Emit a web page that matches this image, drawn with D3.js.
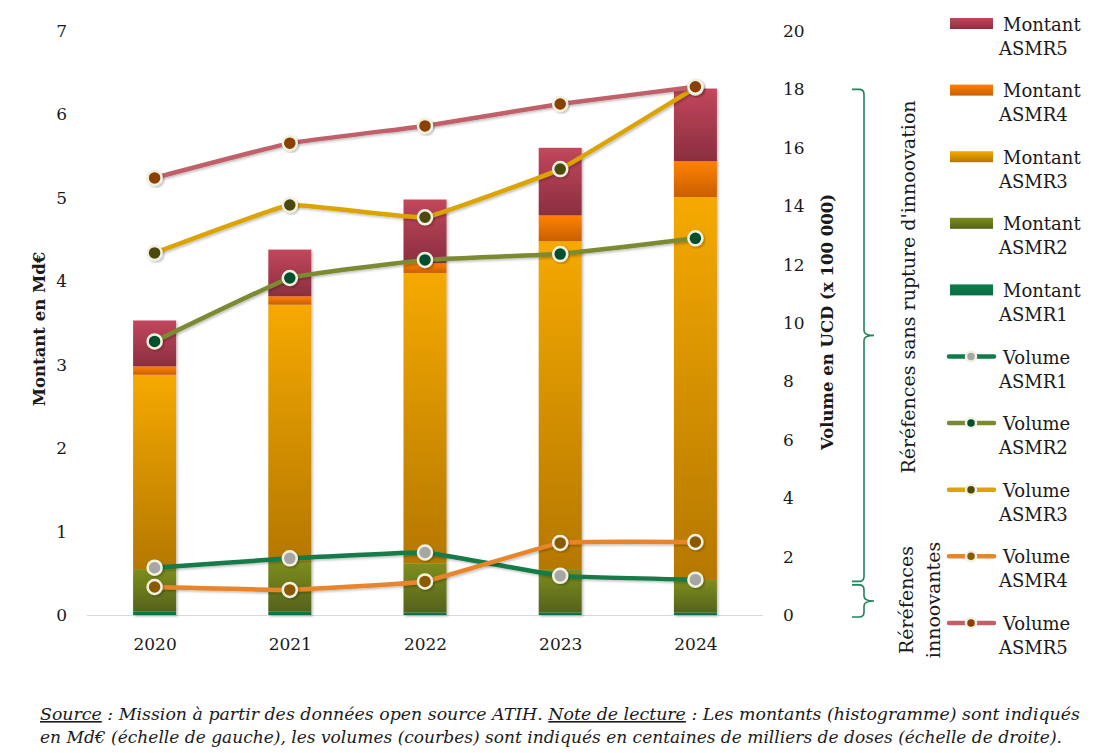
<!DOCTYPE html>
<html>
<head>
<meta charset="utf-8">
<script src="https://cdn.jsdelivr.net/npm/d3@7"></script>
<style>
  body { margin: 0; background: #ffffff; }
  text { font-family: "DejaVu Serif", serif; fill: #1a1a1a; }
</style>
</head>
<body>
<div id="chart"></div>
<script>
// data
const years = ["2020", "2021", "2022", "2023", "2024"];
const asmr_keys = ["ASMR1", "ASMR2", "ASMR3", "ASMR4", "ASMR5"];

const montant_ASMR1 = [0.04, 0.04, 0.03, 0.03, 0.03];
const montant_ASMR2 = [0.51, 0.61, 0.59, 0.52, 0.39];
const montant_ASMR3 = [2.33, 3.07, 3.48, 3.93, 4.59];
const montant_ASMR4 = [0.10, 0.10, 0.12, 0.31, 0.43];
const montant_ASMR5 = [0.55, 0.56, 0.76, 0.81, 0.87];

const volume_ASMR1 = [1.62, 1.94, 2.14, 1.34, 1.21];
const volume_ASMR2 = [9.37, 11.54, 12.16, 12.36, 12.90];
const volume_ASMR3 = [12.40, 14.04, 13.62, 15.27, 18.06];
const volume_ASMR4 = [0.96, 0.86, 1.15, 2.47, 2.50];
const volume_ASMR5 = [14.97, 16.16, 16.75, 17.50, 18.09];

const left_ticks = [0, 1, 2, 3, 4, 5, 6, 7];
const right_ticks = [0, 2, 4, 6, 8, 10, 12, 14, 16, 18, 20];

const montant_series = [montant_ASMR1, montant_ASMR2, montant_ASMR3, montant_ASMR4, montant_ASMR5];
const volume_series = [volume_ASMR1, volume_ASMR2, volume_ASMR3, volume_ASMR4, volume_ASMR5];

// colours
const bar_top = ["#0b7d4c", "#7e8e1e", "#f5a900", "#ff8200", "#c2475c"];
const bar_bottom = ["#0a6e43", "#55621a", "#b57800", "#c95f00", "#8b2e40"];
const line_color = ["#137a4a", "#7b8a30", "#dba400", "#e8842a", "#c0606b"];
const marker_color = ["#a6a6a6", "#00502e", "#4b4a10", "#8a5a00", "#8a4000"];
const brace_color = "#23835a";

const WIDTH = 1111, HEIGHT = 753;
const x_left = 87, x_right = 763, y_top = 31, y_bottom = 615;

const svg = d3.select("#chart").append("svg")
    .attr("width", WIDTH)
    .attr("height", HEIGHT);

const defs = svg.append("defs");
asmr_keys.forEach((k, i) => {
    const g = defs.append("linearGradient")
        .attr("id", "grad" + k)
        .attr("x1", 0).attr("y1", 0).attr("x2", 0).attr("y2", 1);
    g.append("stop").attr("offset", "0%").attr("stop-color", bar_top[i]);
    g.append("stop").attr("offset", "100%").attr("stop-color", bar_bottom[i]);
});
const shadow = defs.append("filter").attr("id", "shadow")
    .attr("x", "-20%").attr("y", "-20%").attr("width", "140%").attr("height", "140%");
shadow.append("feDropShadow")
    .attr("dx", 1.5).attr("dy", 1.5).attr("stdDeviation", 1.2)
    .attr("flood-color", "#000").attr("flood-opacity", 0.25);

const x = d3.scalePoint().domain(years).range([x_left, x_right]).padding(0.5);
const bar_width = x.step() * 0.318;
const yL = d3.scaleLinear().domain([0, 7]).range([y_bottom, y_top]);
const yR = d3.scaleLinear().domain([0, 20]).range([y_bottom, y_top]);

// baseline
svg.append("line")
    .attr("x1", x_left).attr("x2", x_right)
    .attr("y1", y_bottom + 0.5).attr("y2", y_bottom + 0.5)
    .attr("stroke", "#d9d9d9").attr("stroke-width", 1.2);

// stacked bars
const table = years.map((yr, j) => {
    const row = { year: yr };
    asmr_keys.forEach((k, i) => row[k] = montant_series[i][j]);
    return row;
});
const stacked = d3.stack().keys(asmr_keys)(table);

const bars = svg.append("g").attr("filter", "url(#shadow)");
stacked.forEach(layer => {
    bars.append("g")
        .selectAll("rect")
        .data(layer)
        .join("rect")
        .attr("x", d => x(d.data.year) - bar_width / 2)
        .attr("y", d => yL(d[1]))
        .attr("width", bar_width)
        .attr("height", d => yL(d[0]) - yL(d[1]))
        .attr("fill", "url(#grad" + layer.key + ")");
});

// volume lines
const line = d3.line()
    .x((d, j) => x(years[j]))
    .y(d => yR(d))
    .curve(d3.curveCardinal.tension(0.75));

volume_series.forEach((vals, i) => {
    const g = svg.append("g");
    g.append("path")
        .datum(vals)
        .attr("d", line)
        .attr("fill", "none")
        .attr("stroke", line_color[i])
        .attr("stroke-width", 4.5)
        .attr("filter", "url(#shadow)");
    g.selectAll("circle")
        .data(vals)
        .join("circle")
        .attr("cx", (d, j) => x(years[j]))
        .attr("cy", d => yR(d))
        .attr("r", 7)
        .attr("fill", marker_color[i])
        .attr("stroke", "#f4f0df")
        .attr("stroke-width", 2.5)
        .attr("filter", "url(#shadow)");
});

// axes
const axisL = svg.append("g")
    .attr("transform", `translate(${x_left - 20},0)`)
    .call(d3.axisLeft(yL).tickValues(left_ticks).tickFormat(d3.format("d")).tickSize(0).tickPadding(0));
const axisR = svg.append("g")
    .attr("transform", `translate(${x_right + 20},0)`)
    .call(d3.axisRight(yR).tickValues(right_ticks).tickFormat(d3.format("d")).tickSize(0).tickPadding(0));
const axisB = svg.append("g")
    .attr("transform", `translate(0,${y_bottom + 23})`)
    .call(d3.axisBottom(x).tickSize(0).tickPadding(0));
[axisL, axisR, axisB].forEach(a => {
    a.select(".domain").remove();
    a.selectAll("text")
        .attr("font-family", "DejaVu Serif")
        .attr("font-size", "17px")
        .attr("fill", "#1a1a1a");
});

svg.append("text")
    .attr("transform", "translate(45,329) rotate(-90)")
    .attr("text-anchor", "middle")
    .attr("font-size", "16.5px")
    .attr("font-weight", "bold")
    .text("Montant en Md€");

svg.append("text")
    .attr("transform", "translate(833,322) rotate(-90)")
    .attr("text-anchor", "middle")
    .attr("font-size", "16.5px")
    .attr("font-weight", "bold")
    .text("Volume en UCD (x 100 000)");

// braces
function brace(y0, y1, xs, xv, xt) {
    const ym = (y0 + y1) / 2, r = 5;
    return `M${xs},${y0} L${xv - r},${y0} Q${xv},${y0} ${xv},${y0 + r}` +
        ` L${xv},${ym - r} Q${xv},${ym} ${xt},${ym}` +
        ` Q${xv},${ym} ${xv},${ym + r} L${xv},${y1 - r} Q${xv},${y1} ${xv - r},${y1} L${xs},${y1}`;
}
svg.append("path")
    .attr("d", brace(yR(18), yR(1.15), 852, 864, 874))
    .attr("fill", "none").attr("stroke", brace_color).attr("stroke-width", 1.6);
svg.append("path")
    .attr("d", brace(yR(1.03), yR(-0.07), 852, 864, 874))
    .attr("fill", "none").attr("stroke", brace_color).attr("stroke-width", 1.6);

svg.append("text")
    .attr("transform", "translate(915,287) rotate(-90)")
    .attr("text-anchor", "middle")
    .attr("font-size", "19px")
    .text("Réréfences sans rupture d'innoovation");
svg.append("text")
    .attr("transform", "translate(913,600) rotate(-90)")
    .attr("text-anchor", "middle")
    .attr("font-size", "19px")
    .text("Réréfences");
svg.append("text")
    .attr("transform", "translate(940,600) rotate(-90)")
    .attr("text-anchor", "middle")
    .attr("font-size", "19px")
    .text("innoovantes");

// legend
const legend_rows = [
    ...asmr_keys.map((k, i) => ({ kind: "Montant", key: k, i: i })).reverse(),
    ...asmr_keys.map((k, i) => ({ kind: "Volume", key: k, i: i }))
];
const legend = svg.append("g");
legend_rows.forEach((r, n) => {
    const cy = 23.5 + n * 66.6;
    const g = legend.append("g");
    if (r.kind === "Montant") {
        g.append("rect")
            .attr("x", 950).attr("y", cy - 5.5)
            .attr("width", 43).attr("height", 11)
            .attr("fill", "url(#grad" + r.key + ")");
    } else {
        g.append("line")
            .attr("x1", 949).attr("x2", 994)
            .attr("y1", cy).attr("y2", cy)
            .attr("stroke", line_color[r.i]).attr("stroke-width", 4.5)
            .attr("stroke-linecap", "round");
        g.append("circle")
            .attr("cx", 971).attr("cy", cy).attr("r", 5)
            .attr("fill", marker_color[r.i])
            .attr("stroke", "#f4f0df").attr("stroke-width", 2.5);
    }
    g.append("text").attr("x", 1003).attr("y", cy + 7)
        .attr("font-size", "18px").text(r.kind);
    g.append("text").attr("x", 999).attr("y", cy + 31)
        .attr("font-size", "18px").text(r.key);
});

// footnote
const note1 = svg.append("text")
    .attr("x", 40).attr("y", 720)
    .attr("font-size", "16px").attr("font-style", "italic")
    .attr("textLength", 1040).attr("lengthAdjust", "spacingAndGlyphs");
note1.append("tspan").attr("text-decoration", "underline").text("Source");
note1.append("tspan").text(" : Mission à partir des données open source ATIH. ");
note1.append("tspan").attr("text-decoration", "underline").text("Note de lecture");
note1.append("tspan").text(" : Les montants (histogramme) sont indiqués");

svg.append("text")
    .attr("x", 40).attr("y", 743)
    .attr("font-size", "16px").attr("font-style", "italic")
    .attr("textLength", 1022).attr("lengthAdjust", "spacingAndGlyphs")
    .text("en Md€ (échelle de gauche), les volumes (courbes) sont indiqués en centaines de milliers de doses (échelle de droite).");
</script>
</body>
</html>
